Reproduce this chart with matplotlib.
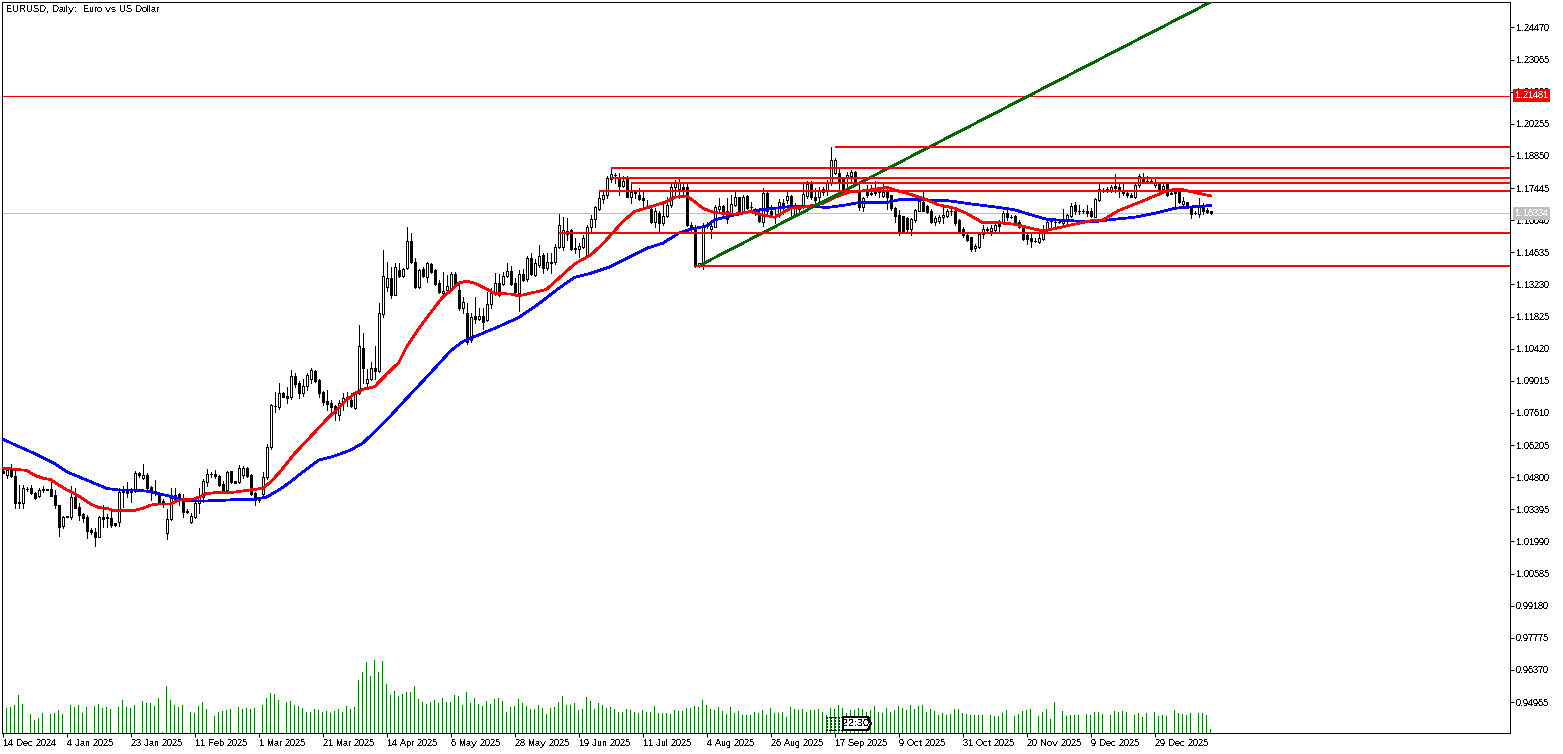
#!/usr/bin/env python3
"""EURUSD daily chart in the MetaTrader look: candles, two moving averages, levels, tick volume."""

import matplotlib
matplotlib.use("Agg")
import matplotlib.pyplot as plt
from matplotlib.lines import Line2D
from matplotlib.patches import Polygon

W, H = 1563, 754
AX_LEFT, AX_RIGHT, AX_TOP, AX_BOTTOM = 2, 1510, 2, 733
BAR_PX = 4.0
FIRST_BAR_PX = 2.67

PRICE_TOP = 1.2558
PRICE_BOTTOM = 0.93615

opens = [
    1.0508, 1.0489, 1.0511, 1.0487, 1.0373, 1.0368, 1.0428, 1.0431, 1.0412, 1.0398,
    1.0425, 1.0427, 1.0428, 1.0402, 1.0358, 1.0266, 1.0309, 1.0304, 1.0395, 1.0348,
    1.0319, 1.0306, 1.0249, 1.0239, 1.0220, 1.0304, 1.0307, 1.0300, 1.0278, 1.0282,
    1.0424, 1.0424, 1.0424, 1.0421, 1.0497, 1.0478, 1.0489, 1.0438, 1.0421, 1.0412,
    1.0376, 1.0234, 1.0296, 1.0383, 1.0406, 1.0387, 1.0332, 1.0285, 1.0307, 1.0366,
    1.0392, 1.0460, 1.0494, 1.0492, 1.0485, 1.0449, 1.0424, 1.0507, 1.0463, 1.0460,
    1.0489, 1.0519, 1.0489, 1.0409, 1.0380, 1.0406, 1.0479, 1.0610, 1.0791, 1.0789,
    1.0847, 1.0837, 1.0832, 1.0923, 1.0891, 1.0850, 1.0880, 1.0911, 1.0946, 1.0905,
    1.0851, 1.0813, 1.0805, 1.0791, 1.0752, 1.0803, 1.0829, 1.0818, 1.0781, 1.0847,
    1.1044, 1.0894, 1.0910, 1.0956, 1.0946, 1.1194, 1.1313, 1.1350, 1.1278, 1.1386,
    1.1360, 1.1394, 1.1513, 1.1423, 1.1313, 1.1389, 1.1357, 1.1413, 1.1386, 1.1328,
    1.1287, 1.1299, 1.1306, 1.1369, 1.1299, 1.1222, 1.1197, 1.1080, 1.1185, 1.1170,
    1.1185, 1.1168, 1.1236, 1.1284, 1.1328, 1.1324, 1.1360, 1.1382, 1.1328, 1.1287,
    1.1367, 1.1345, 1.1440, 1.1364, 1.1408, 1.1452, 1.1394, 1.1420, 1.1420, 1.1486,
    1.1488, 1.1544, 1.1561, 1.1484, 1.1477, 1.1486, 1.1452, 1.1573, 1.1608, 1.1653,
    1.1695, 1.1714, 1.1783, 1.1802, 1.1783, 1.1754, 1.1783, 1.1707, 1.1725, 1.1714,
    1.1700, 1.1668, 1.1653, 1.1598, 1.1634, 1.1590, 1.1623, 1.1671, 1.1748, 1.1739,
    1.1751, 1.1751, 1.1583, 1.1569, 1.1404, 1.1413, 1.1579, 1.1567, 1.1576, 1.1652,
    1.1666, 1.1642, 1.1631, 1.1671, 1.1704, 1.1646, 1.1710, 1.1663, 1.1649, 1.1631,
    1.1598, 1.1722, 1.1644, 1.1623, 1.1627, 1.1678, 1.1693, 1.1710, 1.1631, 1.1663,
    1.1660, 1.1710, 1.1765, 1.1707, 1.1704, 1.1729, 1.1736, 1.1768, 1.1809, 1.1809,
    1.1783, 1.1787, 1.1798, 1.1816, 1.1736, 1.1663, 1.1736, 1.1722, 1.1725, 1.1729,
    1.1710, 1.1729, 1.1712, 1.1656, 1.1627, 1.1623, 1.1612, 1.1564, 1.1605, 1.1644,
    1.1685, 1.1666, 1.1642, 1.1598, 1.1602, 1.1617, 1.1623, 1.1646, 1.1646, 1.1605,
    1.1564, 1.1539, 1.1529, 1.1481, 1.1488, 1.1544, 1.1564, 1.1558, 1.1561, 1.1588,
    1.1593, 1.1637, 1.1620, 1.1623, 1.1598, 1.1579, 1.1539, 1.1525, 1.1515, 1.1510,
    1.1523, 1.1564, 1.1601, 1.1598, 1.1598, 1.1593, 1.1601, 1.1623, 1.1669, 1.1646,
    1.1644, 1.1644, 1.1642, 1.1620, 1.1693, 1.1736, 1.1739, 1.1736, 1.1754, 1.1748,
    1.1736, 1.1722, 1.1714, 1.1707, 1.1758, 1.1787, 1.1777, 1.1776, 1.1758, 1.1763,
    1.1741, 1.1763, 1.1722, 1.1726, 1.1729, 1.1675, 1.1682, 1.1656, 1.1637, 1.1631,
    1.1666, 1.1649, 1.1643,
]
highs = [
    1.0511, 1.0526, 1.0538, 1.0519, 1.0446, 1.0446, 1.0438, 1.0446, 1.0417, 1.0431,
    1.0443, 1.0428, 1.0468, 1.0424, 1.0358, 1.0310, 1.0312, 1.0441, 1.0431, 1.0366,
    1.0322, 1.0314, 1.0256, 1.0256, 1.0310, 1.0358, 1.0317, 1.0336, 1.0279, 1.0431,
    1.0441, 1.0460, 1.0431, 1.0508, 1.0504, 1.0538, 1.0497, 1.0443, 1.0468, 1.0417,
    1.0383, 1.0339, 1.0431, 1.0431, 1.0412, 1.0406, 1.0339, 1.0322, 1.0380, 1.0431,
    1.0470, 1.0514, 1.0501, 1.0511, 1.0489, 1.0465, 1.0507, 1.0507, 1.0465, 1.0533,
    1.0529, 1.0526, 1.0494, 1.0417, 1.0387, 1.0504, 1.0625, 1.0799, 1.0854, 1.0891,
    1.0851, 1.0876, 1.0949, 1.0934, 1.0902, 1.0908, 1.0934, 1.0958, 1.0949, 1.0908,
    1.0858, 1.0861, 1.0818, 1.0796, 1.0818, 1.0850, 1.0851, 1.0847, 1.0858, 1.1146,
    1.1109, 1.0953, 1.0985, 1.1054, 1.1240, 1.1474, 1.1423, 1.1401, 1.1415, 1.1415,
    1.1394, 1.1573, 1.1547, 1.1437, 1.1389, 1.1398, 1.1423, 1.1418, 1.1389, 1.1343,
    1.1379, 1.1364, 1.1379, 1.1379, 1.1338, 1.1270, 1.1240, 1.1197, 1.1267, 1.1219,
    1.1219, 1.1292, 1.1306, 1.1372, 1.1367, 1.1376, 1.1418, 1.1404, 1.1350, 1.1386,
    1.1389, 1.1448, 1.1459, 1.1433, 1.1496, 1.1459, 1.1459, 1.1459, 1.1500, 1.1631,
    1.1620, 1.1612, 1.1564, 1.1525, 1.1503, 1.1539, 1.1583, 1.1627, 1.1668, 1.1736,
    1.1733, 1.1795, 1.1831, 1.1812, 1.1809, 1.1795, 1.1795, 1.1768, 1.1736, 1.1744,
    1.1725, 1.1693, 1.1671, 1.1656, 1.1642, 1.1678, 1.1707, 1.1765, 1.1780, 1.1787,
    1.1765, 1.1765, 1.1598, 1.1583, 1.1416, 1.1590, 1.1598, 1.1598, 1.1671, 1.1700,
    1.1671, 1.1700, 1.1714, 1.1729, 1.1707, 1.1714, 1.1714, 1.1685, 1.1656, 1.1656,
    1.1744, 1.1729, 1.1671, 1.1649, 1.1695, 1.1695, 1.1729, 1.1714, 1.1678, 1.1671,
    1.1765, 1.1777, 1.1777, 1.1744, 1.1751, 1.1751, 1.1780, 1.1926, 1.1875, 1.1838,
    1.1787, 1.1816, 1.1824, 1.1821, 1.1765, 1.1707, 1.1758, 1.1758, 1.1777, 1.1751,
    1.1763, 1.1744, 1.1714, 1.1663, 1.1649, 1.1623, 1.1617, 1.1612, 1.1652, 1.1693,
    1.1729, 1.1671, 1.1652, 1.1623, 1.1627, 1.1663, 1.1652, 1.1663, 1.1656, 1.1608,
    1.1576, 1.1542, 1.1532, 1.1500, 1.1547, 1.1583, 1.1573, 1.1583, 1.1590, 1.1605,
    1.1642, 1.1663, 1.1627, 1.1627, 1.1605, 1.1583, 1.1547, 1.1542, 1.1525, 1.1542,
    1.1583, 1.1605, 1.1612, 1.1608, 1.1608, 1.1653, 1.1631, 1.1681, 1.1682, 1.1671,
    1.1652, 1.1671, 1.1656, 1.1700, 1.1763, 1.1744, 1.1747, 1.1758, 1.1806, 1.1763,
    1.1765, 1.1736, 1.1722, 1.1765, 1.1805, 1.1809, 1.1798, 1.1783, 1.1783, 1.1765,
    1.1765, 1.1768, 1.1726, 1.1736, 1.1744, 1.1704, 1.1685, 1.1656, 1.1642, 1.1700,
    1.1678, 1.1656, 1.1646,
]
lows = [
    1.0497, 1.0475, 1.0482, 1.0347, 1.0347, 1.0344, 1.0419, 1.0406, 1.0384, 1.0392,
    1.0417, 1.0422, 1.0398, 1.0347, 1.0224, 1.0256, 1.0306, 1.0297, 1.0344, 1.0293,
    1.0285, 1.0215, 1.0231, 1.0179, 1.0217, 1.0263, 1.0261, 1.0263, 1.0268, 1.0266,
    1.0351, 1.0392, 1.0373, 1.0414, 1.0482, 1.0470, 1.0428, 1.0380, 1.0402, 1.0366,
    1.0351, 1.0212, 1.0293, 1.0380, 1.0358, 1.0307, 1.0322, 1.0281, 1.0303, 1.0322,
    1.0373, 1.0443, 1.0482, 1.0475, 1.0443, 1.0417, 1.0421, 1.0453, 1.0453, 1.0453,
    1.0475, 1.0482, 1.0402, 1.0358, 1.0370, 1.0402, 1.0470, 1.0602, 1.0767, 1.0777,
    1.0829, 1.0806, 1.0822, 1.0876, 1.0825, 1.0835, 1.0861, 1.0891, 1.0898, 1.0832,
    1.0796, 1.0774, 1.0752, 1.0730, 1.0730, 1.0774, 1.0791, 1.0789, 1.0778, 1.0844,
    1.0891, 1.0873, 1.0905, 1.0908, 1.0940, 1.1182, 1.1296, 1.1265, 1.1275, 1.1357,
    1.1357, 1.1389, 1.1418, 1.1308, 1.1309, 1.1357, 1.1332, 1.1375, 1.1321, 1.1284,
    1.1273, 1.1281, 1.1296, 1.1313, 1.1211, 1.1197, 1.1063, 1.1073, 1.1153, 1.1168,
    1.1128, 1.1165, 1.1219, 1.1277, 1.1273, 1.1321, 1.1354, 1.1321, 1.1277, 1.1208,
    1.1340, 1.1340, 1.1364, 1.1362, 1.1401, 1.1372, 1.1386, 1.1372, 1.1413, 1.1481,
    1.1474, 1.1518, 1.1474, 1.1459, 1.1445, 1.1481, 1.1448, 1.1547, 1.1573, 1.1649,
    1.1678, 1.1700, 1.1773, 1.1768, 1.1714, 1.1748, 1.1704, 1.1678, 1.1700, 1.1693,
    1.1656, 1.1656, 1.1590, 1.1573, 1.1554, 1.1583, 1.1617, 1.1663, 1.1707, 1.1700,
    1.1714, 1.1579, 1.1547, 1.1401, 1.1401, 1.1392, 1.1569, 1.1528, 1.1572, 1.1642,
    1.1620, 1.1590, 1.1627, 1.1666, 1.1637, 1.1642, 1.1653, 1.1652, 1.1627, 1.1598,
    1.1579, 1.1637, 1.1617, 1.1590, 1.1620, 1.1631, 1.1678, 1.1627, 1.1627, 1.1642,
    1.1656, 1.1700, 1.1695, 1.1671, 1.1685, 1.1714, 1.1714, 1.1758, 1.1806, 1.1736,
    1.1725, 1.1736, 1.1765, 1.1758, 1.1649, 1.1646, 1.1707, 1.1714, 1.1714, 1.1707,
    1.1704, 1.1652, 1.1649, 1.1598, 1.1539, 1.1547, 1.1547, 1.1539, 1.1598, 1.1642,
    1.1642, 1.1634, 1.1593, 1.1583, 1.1590, 1.1590, 1.1617, 1.1627, 1.1583, 1.1554,
    1.1532, 1.1515, 1.1471, 1.1467, 1.1484, 1.1525, 1.1554, 1.1539, 1.1547, 1.1558,
    1.1590, 1.1605, 1.1612, 1.1583, 1.1569, 1.1518, 1.1500, 1.1488, 1.1510, 1.1503,
    1.1518, 1.1558, 1.1573, 1.1573, 1.1590, 1.1583, 1.1590, 1.1617, 1.1631, 1.1631,
    1.1637, 1.1623, 1.1617, 1.1617, 1.1690, 1.1729, 1.1729, 1.1729, 1.1729, 1.1704,
    1.1714, 1.1704, 1.1704, 1.1703, 1.1751, 1.1768, 1.1765, 1.1768, 1.1748, 1.1736,
    1.1736, 1.1710, 1.1717, 1.1656, 1.1681, 1.1671, 1.1656, 1.1615, 1.1631, 1.1620,
    1.1631, 1.1634, 1.1633,
]
closes = [
    1.0500, 1.0511, 1.0485, 1.0366, 1.0366, 1.0431, 1.0427, 1.0409, 1.0390, 1.0424,
    1.0428, 1.0424, 1.0399, 1.0358, 1.0263, 1.0307, 1.0307, 1.0392, 1.0347, 1.0314,
    1.0303, 1.0246, 1.0242, 1.0217, 1.0304, 1.0298, 1.0300, 1.0271, 1.0269, 1.0417,
    1.0417, 1.0412, 1.0417, 1.0497, 1.0489, 1.0489, 1.0434, 1.0421, 1.0409, 1.0373,
    1.0370, 1.0296, 1.0387, 1.0402, 1.0380, 1.0329, 1.0330, 1.0309, 1.0366, 1.0392,
    1.0463, 1.0492, 1.0492, 1.0485, 1.0446, 1.0421, 1.0504, 1.0457, 1.0456, 1.0519,
    1.0519, 1.0487, 1.0406, 1.0380, 1.0379, 1.0482, 1.0610, 1.0796, 1.0790, 1.0847,
    1.0832, 1.0828, 1.0923, 1.0888, 1.0850, 1.0879, 1.0927, 1.0949, 1.0902, 1.0850,
    1.0810, 1.0800, 1.0786, 1.0759, 1.0803, 1.0825, 1.0826, 1.0793, 1.0851, 1.1054,
    1.0956, 1.0910, 1.0956, 1.0946, 1.1197, 1.1360, 1.1350, 1.1277, 1.1398, 1.1362,
    1.1389, 1.1513, 1.1420, 1.1310, 1.1386, 1.1362, 1.1415, 1.1379, 1.1325, 1.1289,
    1.1296, 1.1316, 1.1369, 1.1316, 1.1222, 1.1245, 1.1073, 1.1182, 1.1170, 1.1185,
    1.1160, 1.1238, 1.1287, 1.1328, 1.1277, 1.1360, 1.1382, 1.1325, 1.1289, 1.1367,
    1.1343, 1.1437, 1.1369, 1.1415, 1.1448, 1.1394, 1.1420, 1.1418, 1.1486, 1.1583,
    1.1561, 1.1558, 1.1477, 1.1477, 1.1491, 1.1525, 1.1573, 1.1608, 1.1660, 1.1700,
    1.1714, 1.1787, 1.1805, 1.1800, 1.1754, 1.1777, 1.1707, 1.1729, 1.1723, 1.1695,
    1.1693, 1.1666, 1.1595, 1.1642, 1.1593, 1.1623, 1.1671, 1.1751, 1.1765, 1.1768,
    1.1736, 1.1583, 1.1569, 1.1404, 1.1416, 1.1573, 1.1577, 1.1579, 1.1660, 1.1666,
    1.1637, 1.1608, 1.1675, 1.1704, 1.1642, 1.1704, 1.1656, 1.1662, 1.1647, 1.1601,
    1.1722, 1.1642, 1.1623, 1.1617, 1.1684, 1.1656, 1.1710, 1.1663, 1.1666, 1.1652,
    1.1719, 1.1762, 1.1704, 1.1693, 1.1736, 1.1739, 1.1768, 1.1868, 1.1868, 1.1777,
    1.1736, 1.1802, 1.1816, 1.1765, 1.1663, 1.1700, 1.1714, 1.1720, 1.1723, 1.1728,
    1.1729, 1.1707, 1.1656, 1.1623, 1.1558, 1.1558, 1.1564, 1.1608, 1.1649, 1.1690,
    1.1646, 1.1639, 1.1598, 1.1615, 1.1620, 1.1627, 1.1644, 1.1644, 1.1593, 1.1558,
    1.1537, 1.1518, 1.1477, 1.1491, 1.1544, 1.1564, 1.1563, 1.1569, 1.1583, 1.1579,
    1.1634, 1.1617, 1.1618, 1.1588, 1.1576, 1.1520, 1.1520, 1.1515, 1.1513, 1.1525,
    1.1561, 1.1598, 1.1599, 1.1596, 1.1596, 1.1605, 1.1627, 1.1666, 1.1646, 1.1644,
    1.1643, 1.1634, 1.1623, 1.1695, 1.1739, 1.1735, 1.1738, 1.1751, 1.1744, 1.1736,
    1.1722, 1.1714, 1.1707, 1.1758, 1.1795, 1.1777, 1.1768, 1.1774, 1.1768, 1.1741,
    1.1755, 1.1714, 1.1720, 1.1722, 1.1685, 1.1690, 1.1660, 1.1631, 1.1636, 1.1668,
    1.1644, 1.1640, 1.16334,
]
volumes = [
    0, 25, 26, 28, 38, 29, 0, 19, 13, 15,
    20, 0, 19, 20, 23, 19, 0, 28, 26, 28,
    20, 26, 0, 27, 29, 25, 26, 24, 0, 26,
    33, 26, 25, 28, 0, 32, 30, 30, 27, 35,
    1, 47, 33, 28, 26, 28, 0, 21, 20, 27,
    31, 24, 0, 17, 21, 22, 23, 24, 0, 26,
    24, 25, 24, 25, 0, 28, 35, 40, 39, 33,
    0, 31, 32, 28, 27, 25, 21, 21, 24, 23,
    21, 22, 20, 22, 24, 21, 27, 24, 26, 53,
    61, 71, 57, 73, 61, 72, 49, 38, 42, 37,
    39, 41, 41, 47, 34, 31, 29, 31, 33, 30,
    35, 31, 31, 38, 37, 28, 41, 30, 35, 29,
    27, 32, 29, 34, 35, 32, 21, 26, 27, 34,
    30, 27, 24, 24, 28, 25, 19, 25, 26, 31,
    37, 28, 28, 30, 23, 24, 36, 32, 24, 30,
    28, 25, 26, 24, 21, 21, 24, 23, 21, 20,
    23, 21, 21, 27, 20, 20, 20, 19, 23, 22,
    22, 25, 25, 27, 26, 33, 28, 24, 23, 26,
    22, 19, 26, 20, 22, 18, 18, 18, 21, 20,
    23, 18, 25, 20, 20, 21, 16, 26, 24, 23,
    24, 21, 23, 23, 24, 21, 18, 25, 24, 28,
    25, 20, 23, 23, 25, 24, 21, 23, 27, 21,
    20, 25, 21, 23, 27, 25, 23, 28, 24, 27,
    28, 21, 24, 22, 18, 20, 18, 19, 24, 24,
    20, 19, 18, 18, 18, 18, 0, 18, 17, 17,
    20, 23, 0, 17, 19, 22, 23, 24, 0, 17,
    21, 24, 14, 31, 0, 22, 17, 18, 18, 18,
    0, 19, 18, 21, 21, 19, 0, 18, 22, 21,
    22, 21, 0, 18, 20, 16, 20, 0, 21, 17,
    18, 17, 0, 23, 20, 19, 18, 20, 0, 20,
    20, 18, 4,
]

# moving averages, read at these bars
fast_ma_bars = [
    0, 4, 6, 8, 10, 12, 14, 16, 18, 20, 22, 24, 26, 28, 30, 33, 35, 37, 39, 42,
    44, 46, 48, 51, 53, 56, 59, 62, 65, 67, 69, 71, 73, 74, 81, 86, 88, 90, 93, 96,
    99, 101, 104, 108, 110, 112, 114, 116, 118, 121, 123, 127, 129, 133, 136, 139, 143, 147, 150, 152,
    155, 158, 162, 166, 168, 171, 173, 175, 178, 183, 187, 190, 193, 195, 197, 201, 205, 208, 212, 215,
    218, 221, 223, 226, 230, 234, 238, 241, 245, 249, 253, 257, 260, 263, 267, 272, 275, 279, 284, 288,
    291, 294, 297, 302,
]
fast_ma = [
    1.0520, 1.0513, 1.0510, 1.0488, 1.0476, 1.0470, 1.0446, 1.0425, 1.0408, 1.0387,
    1.0363, 1.0347, 1.0344, 1.0333, 1.0333, 1.0335, 1.0344, 1.0358, 1.0363, 1.0363,
    1.0380, 1.0383, 1.0385, 1.0409, 1.0412, 1.0412, 1.0417, 1.0425, 1.0431, 1.0460,
    1.0497, 1.0540, 1.0584, 1.0602, 1.0733, 1.0818, 1.0847, 1.0864, 1.0876, 1.0931,
    1.0981, 1.1051, 1.1130, 1.1223, 1.1267, 1.1296, 1.1328, 1.1338, 1.1328, 1.1302,
    1.1284, 1.1281, 1.1273, 1.1289, 1.1302, 1.1350, 1.1413, 1.1452, 1.1500, 1.1539,
    1.1598, 1.1642, 1.1663, 1.1685, 1.1704, 1.1710, 1.1685, 1.1656, 1.1637, 1.1630,
    1.1642, 1.1627, 1.1617, 1.1637, 1.1656, 1.1663, 1.1678, 1.1704, 1.1729, 1.1732,
    1.1739, 1.1748, 1.1736, 1.1722, 1.1700, 1.1671, 1.1656, 1.1634, 1.1593, 1.1593,
    1.1586, 1.1569, 1.1557, 1.1567, 1.1583, 1.1601, 1.1605, 1.1646, 1.1681, 1.1710,
    1.1732, 1.1741, 1.1729, 1.1710,
]
slow_ma_bars = [
    0, 3, 6, 9, 13, 16, 19, 23, 26, 29, 33, 36, 39, 43, 46, 49, 53, 56, 59, 63,
    66, 69, 72, 74, 79, 83, 87, 90, 93, 96, 100, 107, 112, 115, 118, 123, 129, 134, 139, 143,
    147, 152, 156, 161, 165, 169, 172, 176, 178, 183, 188, 193, 198, 202, 206, 211, 214, 219, 221, 224,
    231, 237, 242, 249, 253, 258, 261, 266, 273, 278, 283, 288, 293, 298, 302,
]
slow_ma = [
    1.0647, 1.0622, 1.0599, 1.0575, 1.0540, 1.0504, 1.0482, 1.0453, 1.0431, 1.0424,
    1.0424, 1.0419, 1.0408, 1.0392, 1.0379, 1.0376, 1.0377, 1.0380, 1.0383, 1.0384,
    1.0393, 1.0424, 1.0460, 1.0489, 1.0555, 1.0573, 1.0599, 1.0629, 1.0678, 1.0730,
    1.0806, 1.0937, 1.1033, 1.1073, 1.1095, 1.1131, 1.1178, 1.1238, 1.1306, 1.1354,
    1.1372, 1.1401, 1.1437, 1.1481, 1.1503, 1.1547, 1.1564, 1.1579, 1.1605, 1.1627,
    1.1646, 1.1656, 1.1666, 1.1666, 1.1659, 1.1671, 1.1681, 1.1681, 1.1681, 1.1693,
    1.1693, 1.1688, 1.1675, 1.1660, 1.1649, 1.1623, 1.1608, 1.1602, 1.1598, 1.1608,
    1.1617, 1.1634, 1.1656, 1.1663, 1.1668,
]

level_prices = [1.1925, 1.1833, 1.1788, 1.1768, 1.1733, 1.1549, 1.1404]
level_start_bars = [208, 152, 152, 157, 149, 139, 173]

trend_bars = [175, 302]
trend_prices = [1.1413, 1.2558]

alert_price = 1.21481
last_price = 1.16334

price_ticks = [
    1.24470, 1.23065, 1.21660, 1.20255, 1.18850, 1.17445, 1.16040, 1.14635, 1.13230, 1.11825, 1.10420,
    1.09015, 1.07610, 1.06205, 1.04800, 1.03395, 1.01990, 1.00585, 0.99180, 0.97775, 0.96370, 0.94965,
]
date_labels = [
    "14 Dec 2024", "4 Jan 2025", "23 Jan 2025", "11 Feb 2025", "1 Mar 2025", "21 Mar 2025", "14 Apr 2025",
    "6 May 2025", "28 May 2025", "19 Jun 2025", "11 Jul 2025", "4 Aug 2025", "26 Aug 2025", "17 Sep 2025",
    "9 Oct 2025", "31 Oct 2025", "20 Nov 2025", "9 Dec 2025", "29 Dec 2025",
]
DATE_EVERY = 16

FONT = ["Liberation Sans", "DejaVu Sans"]
FONT_SIZE = 6.4
PX = 0.72  # one pixel in points at dpi 100
MA_LW = 1.7 * PX


def fx(px):
    return px / W


def fy(px):
    return 1.0 - px / H


def main():
    n = len(opens)
    assert n == len(highs) == len(lows) == len(closes) == len(volumes)
    assert len(fast_ma_bars) == len(fast_ma) and len(slow_ma_bars) == len(slow_ma)

    plt.rcParams["font.family"] = FONT
    plt.rcParams["text.antialiased"] = False
    plt.rcParams["text.hinting"] = "native"
    plt.rcParams["text.hinting_factor"] = 1

    fig = plt.figure(figsize=(W / 100, H / 100), dpi=100, facecolor="white")
    ax = fig.add_axes([fx(AX_LEFT), fy(AX_BOTTOM), (AX_RIGHT - AX_LEFT) / W, (AX_BOTTOM - AX_TOP) / H])
    x_min = (AX_LEFT - FIRST_BAR_PX) / BAR_PX
    ax.set_xlim(x_min, x_min + (AX_RIGHT - AX_LEFT) / BAR_PX)
    ax.set_ylim(PRICE_BOTTOM, PRICE_TOP)

    vol_ax = ax.twinx()
    vol_ax.set_ylim(0, AX_BOTTOM - AX_TOP)
    vol_ax.set_yticks([])
    for spine in vol_ax.spines.values():
        spine.set_visible(False)
    ax.set_zorder(vol_ax.get_zorder() + 1)
    ax.patch.set_visible(False)
    vol_ax.patch.set_facecolor("white")

    bars = list(range(n))
    vol_bars = [b for b in bars if volumes[b] > 0]
    vol_ax.bar(vol_bars, [volumes[b] for b in vol_bars], width=0.25, color="#008000", linewidth=0, antialiased=False)

    ax.axhline(last_price, color="#c0c0c0", lw=PX, antialiased=False, zorder=1)
    ax.axhline(alert_price, color="#ff0000", lw=PX, antialiased=False, zorder=1)

    ax.vlines(bars, lows, highs, color="black", lw=PX, antialiased=False, zorder=2)
    up = [b for b in bars if closes[b] >= opens[b]]
    down = [b for b in bars if closes[b] < opens[b]]
    ax.bar(up, [closes[b] - opens[b] for b in up], bottom=[opens[b] for b in up], width=0.5,
           facecolor="white", edgecolor="black", linewidth=PX, antialiased=False, zorder=3)
    ax.bar(down, [closes[b] - opens[b] for b in down], bottom=[opens[b] for b in down], width=0.5,
           facecolor="black", edgecolor="black", linewidth=PX, antialiased=False, zorder=3)

    ax.plot(slow_ma_bars, slow_ma, color="#0000ff", lw=MA_LW, antialiased=False, zorder=4)
    ax.plot(fast_ma_bars, fast_ma, color="#ff0000", lw=MA_LW, antialiased=False, zorder=5)
    ax.plot(trend_bars, trend_prices, color="#006400", lw=MA_LW, antialiased=False, zorder=6)
    ax.hlines(level_prices, level_start_bars, ax.get_xlim()[1], color="#ff0000", lw=2 * PX,
              antialiased=False, zorder=7)

    ax.yaxis.tick_right()
    ax.set_yticks(price_ticks)
    ax.set_yticklabels([f"{p:.5f}" for p in price_ticks])
    ax.set_xticks(bars[::DATE_EVERY])
    ax.set_xticklabels(date_labels, ha="left")
    ax.tick_params(axis="both", length=4 * PX, width=PX, labelsize=FONT_SIZE, color="black")
    ax.tick_params(axis="y", pad=1.5)
    ax.tick_params(axis="x", pad=1.5)
    for spine in ax.spines.values():
        spine.set_linewidth(PX)
        spine.set_antialiased(False)

    # price tags on the right scale
    for price, bg in [(alert_price, "#ff0000"), (last_price, "#c0c0c0")]:
        ax.annotate(f"{price:.5f}", xy=(1, price), xycoords=("axes fraction", "data"),
                    xytext=(3.5, 0), textcoords="offset points", va="center", ha="left",
                    fontsize=FONT_SIZE, color="white", zorder=20,
                    bbox=dict(boxstyle="square,pad=0.25", fc=bg, ec="none"), annotation_clip=False)

    fig.text(fx(6), fy(9), "EURUSD, Daily:  Euro vs US Dollar", fontsize=FONT_SIZE, va="center", ha="left")

    # candle timer tag at the foot of the chart
    for px in [826.7, 830.7, 834.7, 838.7]:
        fig.add_artist(Line2D([fx(px), fx(px)], [fy(717), fy(730)], color="black", lw=PX,
                              linestyle=(0, (1.2, 1.2)), antialiased=False, zorder=10))
    fig.add_artist(Line2D([fx(826), fx(843)], [fy(717), fy(717)], color="black", lw=PX,
                          linestyle=(0, (1.2, 1.2)), antialiased=False, zorder=10))
    fig.add_artist(Line2D([fx(826), fx(843)], [fy(730), fy(730)], color="black", lw=PX,
                          linestyle=(0, (1.2, 1.2)), antialiased=False, zorder=10))
    tag = [(843, 717), (868, 717), (871, 723.5), (868, 730), (843, 730)]
    fig.add_artist(Polygon([(fx(a), fy(b)) for a, b in tag], closed=True, facecolor="white", edgecolor="black",
                           lw=PX, antialiased=False, zorder=11, transform=fig.transFigure))
    fig.text(fx(856), fy(723.5), "22:30", fontsize=7.2, va="center", ha="center", zorder=12)

    fig.savefig("out.png", dpi=100, facecolor="white")


if __name__ == "__main__":
    main()
